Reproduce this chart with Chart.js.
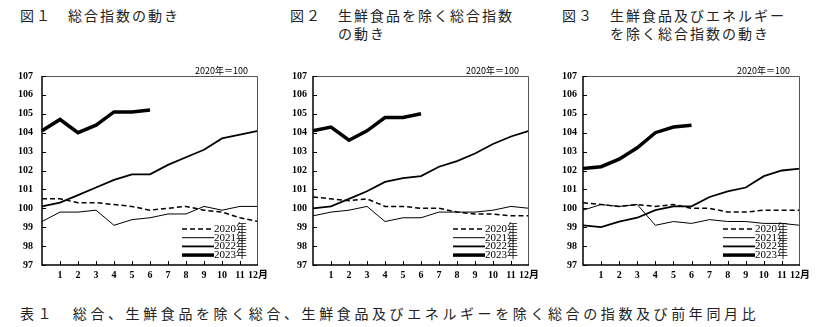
<!DOCTYPE html>
<html>
<head>
<meta charset="utf-8">
<script src="https://cdn.jsdelivr.net/npm/chart.js@4.4.0/dist/chart.umd.min.js"></script>
<style>
body { margin: 0; background: #fff; width: 832px; height: 327px; overflow: hidden; position: relative; }
.t { position: absolute; font-family: "Noto Sans CJK JP", sans-serif; font-size: 14px; line-height: 18px; letter-spacing: 2px; color: #222; white-space: nowrap; }
canvas { position: absolute; top: 60px; }
</style>
</head>
<body>
<div class="t" style="left:20px;top:6px">図１　総合指数の動き</div>
<div class="t" style="left:290px;top:6px">図２　生鮮食品を除く総合指数</div>
<div class="t" style="left:338px;top:24px">の動き</div>
<div class="t" style="left:562px;top:6px">図３　生鮮食品及びエネルギー</div>
<div class="t" style="left:610px;top:24px">を除く総合指数の動き</div>
<div class="t" style="left:20px;top:304px;letter-spacing:3.6px">表１　総合、生鮮食品を除く総合、生鮮食品及びエネルギーを除く総合の指数及び前年同月比</div>

<canvas id="c1" width="259" height="222" style="left:16px"></canvas>
<canvas id="c2" width="259" height="222" style="left:287px"></canvas>
<canvas id="c3" width="260" height="222" style="left:557px"></canvas>

<script>
// x軸: 左端は前年12月
var xLabels = ['', '1', '2', '3', '4', '5', '6', '7', '8', '9', '10', '11', '12月'];
var years = ['2020年', '2021年', '2022年', '2023年'];
var unitText = '2020年＝100';

// 図1 総合
var f1_2020 = [100.5, 100.5, 100.3, 100.3, 100.2, 100.1, 99.9, 100.0, 100.1, 99.9, 99.8, 99.5, 99.3];
var f1_2021 = [99.3, 99.8, 99.8, 99.9, 99.1, 99.4, 99.5, 99.7, 99.7, 100.1, 99.9, 100.1, 100.1];
var f1_2022 = [100.1, 100.3, 100.7, 101.1, 101.5, 101.8, 101.8, 102.3, 102.7, 103.1, 103.7, 103.9, 104.1];
var f1_2023 = [104.1, 104.7, 104.0, 104.4, 105.1, 105.1, 105.2];

// 図2 生鮮食品を除く総合
var f2_2020 = [100.6, 100.5, 100.4, 100.5, 100.1, 100.1, 100.0, 100.0, 99.8, 99.7, 99.7, 99.6, 99.6];
var f2_2021 = [99.6, 99.8, 99.9, 100.1, 99.3, 99.5, 99.5, 99.8, 99.8, 99.8, 99.9, 100.1, 100.0];
var f2_2022 = [100.0, 100.1, 100.5, 100.9, 101.4, 101.6, 101.7, 102.2, 102.5, 102.9, 103.4, 103.8, 104.1];
var f2_2023 = [104.1, 104.3, 103.6, 104.1, 104.8, 104.8, 105.0];

// 図3 生鮮食品及びエネルギーを除く総合
var f3_2020 = [100.3, 100.2, 100.1, 100.2, 100.1, 100.2, 100.0, 100.0, 99.8, 99.8, 99.9, 99.9, 99.9];
var f3_2021 = [99.9, 100.2, 100.1, 100.2, 99.1, 99.3, 99.2, 99.4, 99.3, 99.3, 99.2, 99.2, 99.1];
var f3_2022 = [99.1, 99.0, 99.3, 99.5, 99.9, 100.1, 100.1, 100.6, 100.9, 101.1, 101.7, 102.0, 102.1];
var f3_2023 = [102.1, 102.2, 102.6, 103.2, 104.0, 104.3, 104.4];

var lineStyles = [
	{ width: 1.5, dash: [5, 3] },
	{ width: 1, dash: [] },
	{ width: 1.8, dash: [] },
	{ width: 3.5, dash: [] }
];

var boxPlugin = {
	id: 'box',
	afterDraw: function(chart) {
		var ctx = chart.ctx;
		var a = chart.chartArea;
		var x = chart.scales.x, y = chart.scales.y;
		ctx.save();
		// 枠
		ctx.strokeStyle = '#555';
		ctx.lineWidth = 1;
		ctx.beginPath();
		ctx.moveTo(a.left, a.top + 0.5);
		ctx.lineTo(a.right - 0.5, a.top + 0.5);
		ctx.lineTo(a.right - 0.5, a.bottom);
		ctx.stroke();
		ctx.strokeStyle = '#000';
		ctx.lineWidth = 1.5;
		ctx.beginPath();
		ctx.moveTo(a.left, a.top);
		ctx.lineTo(a.left, a.bottom);
		ctx.lineTo(a.right, a.bottom);
		ctx.stroke();
		// 内向き目盛
		ctx.lineWidth = 1;
		ctx.beginPath();
		for (var v = 97; v <= 107; v++) {
			var py = Math.round(y.getPixelForValue(v)) + 0.5;
			ctx.moveTo(a.left, py);
			ctx.lineTo(a.left + 4, py);
		}
		for (var i = 1; i < xLabels.length - 1; i++) {
			var px = Math.round(x.getPixelForValue(i)) + 0.5;
			ctx.moveTo(px, a.bottom);
			ctx.lineTo(px, a.bottom - 4);
		}
		ctx.stroke();
		// 基準
		ctx.fillStyle = '#000';
		ctx.font = '9px "Noto Sans CJK JP", sans-serif';
		ctx.textAlign = 'right';
		ctx.textBaseline = 'bottom';
		ctx.fillText(unitText, a.right - 10, a.top - 1);
		// 凡例
		ctx.font = '11px "Liberation Serif", "Noto Sans CJK JP", serif';
		ctx.textAlign = 'left';
		ctx.textBaseline = 'middle';
		for (var k = 0; k < years.length; k++) {
			var ly = a.top + 153 + k * 8.7;
			ctx.lineWidth = lineStyles[k].width;
			ctx.setLineDash(lineStyles[k].dash);
			ctx.beginPath();
			ctx.moveTo(a.left + 140, ly);
			ctx.lineTo(a.left + 172, ly);
			ctx.stroke();
			ctx.setLineDash([]);
			ctx.fillText(years[k], a.left + 172, ly);
		}
		ctx.restore();
	}
};

function makeChart(id, s2020, s2021, s2022, s2023, yPad) {
	var series = [s2020, s2021, s2022, s2023];
	var ds = [];
	for (var k = 0; k < series.length; k++) {
		ds.push({
			label: years[k],
			data: series[k],
			borderColor: '#000',
			borderWidth: lineStyles[k].width,
			borderDash: lineStyles[k].dash,
			pointRadius: 0,
			tension: 0,
			fill: false
		});
	}
	var tickFont = { family: '"Liberation Serif", "Noto Sans CJK JP", serif', size: 10, weight: 'bold' };
	return new Chart(document.getElementById(id), {
		type: 'line',
		data: { labels: xLabels, datasets: ds },
		options: {
			responsive: false,
			animation: false,
			devicePixelRatio: 1,
			layout: { padding: { top: 16, right: 17, left: 0, bottom: 0 } },
			plugins: { legend: { display: false }, tooltip: { enabled: false } },
			scales: {
				x: {
					offset: false,
					grid: { display: false, drawTicks: false },
					border: { display: false },
					ticks: { autoSkip: false, maxRotation: 0, color: '#000', font: tickFont, padding: 4 },
					afterFit: function(s) { s.height = 17; }
				},
				y: {
					min: 97,
					max: 107,
					grid: { display: false, drawTicks: false },
					border: { display: false },
					ticks: { stepSize: 1, color: '#000', font: tickFont, padding: yPad },
					afterFit: function(s) { s.width = 26; }
				}
			}
		},
		plugins: [boxPlugin]
	});
}

makeChart('c1', f1_2020, f1_2021, f1_2022, f1_2023, 9);
makeChart('c2', f2_2020, f2_2021, f2_2022, f2_2023, 6);
makeChart('c3', f3_2020, f3_2021, f3_2022, f3_2023, 6);
</script>
</body>
</html>
